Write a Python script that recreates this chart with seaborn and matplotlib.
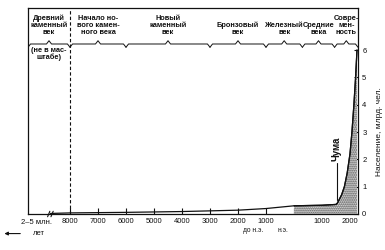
import matplotlib
matplotlib.use("Agg")
import matplotlib.pyplot as plt
import seaborn as sns
import pandas as pd

# ---- data ----
years = [-8700, -8000, -6000, -4000, -2000, -1000, 0, 1000, 1500, 1550,
         1700, 1800, 1900, 2000, 2070, 2140, 2200, 2250]
population = [0.02, 0.04, 0.06, 0.09, 0.14, 0.2, 0.3, 0.32, 0.35, 0.4,
              0.7, 1.0, 1.5, 2.2, 3.0, 4.0, 5.0, 6.0]

era_labels = ["Древний\nкаменный\nвек", "Начало но-\nвого камен-\nного века",
              "Новый\nкаменный\nвек", "Бронзовый\nвек", "Железный\nвек",
              "Средние\nвека", "Совре-\nмен-\nность"]
era_bounds = [-9500, -8000, -6000, -3000, -1000, 300, 1450, 2286]

xtick_pos = [-8000, -7000, -6000, -5000, -4000, -3000, -2000, -1000, 0, 1000, 2000]
xtick_labels = ["8000", "7000", "6000", "5000", "4000", "3000", "2000", "1000", "", "1000", "2000"]
ytick_pos = [0, 1, 2, 3, 4, 5, 6]
plague_year = 1550

INK = "#111111"

sns.set_theme(style="white")
plt.rcParams["font.family"] = ["Liberation Sans", "DejaVu Sans"]

fig = plt.figure(figsize=(3.85, 2.5), dpi=100)
ax = fig.add_axes([28 / 385, 36 / 250, 330 / 385, 206 / 250])

df = pd.DataFrame({"year": years, "pop": population})
sns.lineplot(data=df, x="year", y="pop", color=INK, lw=0.9, ax=ax)

ad = df[df["year"] >= 0]
ax.fill_between(ad["year"], 0, ad["pop"], facecolor="white", edgecolor="#333333",
                hatch="........", linewidth=0)
ax.plot(ad["year"], ad["pop"], color=INK, lw=0.9)

ax.set_xlim(-9500, 2286)
ax.set_ylim(0, 7.537)

for s in ax.spines.values():
    s.set_color(INK)
    s.set_linewidth(0.9)

ax.set_xticks(xtick_pos)
ax.set_xticklabels(xtick_labels)
ax.tick_params(axis="x", direction="in", length=4, width=0.8, color=INK,
               labelsize=5.5, pad=3, labelcolor=INK, bottom=True)
ax.yaxis.tick_right()
ax.set_yticks(ytick_pos)
ax.set_yticklabels([str(v) for v in ytick_pos])
ax.tick_params(axis="y", direction="in", length=3, width=0.8, color=INK,
               labelsize=5.5, pad=3, labelcolor=INK, right=True, left=False)
ax.set_xlabel("")
ax.set_ylabel("Население, млрд. чел.", fontsize=6, color=INK)
ax.yaxis.set_label_position("right")
ax.yaxis.set_label_coords(1.055, 0.40)

# dashed boundary at 8000 BC
ax.axvline(-8000, ls=(0, (3, 2)), color=INK, lw=0.8)

# era header labels and braces
yb = 6.22
h = 0.12
d = 90
for lab, x0, x1 in zip(era_labels, era_bounds[:-1], era_bounds[1:]):
    mid = (x0 + x1) / 2
    ax.text(mid, 6.53, lab, ha="center", va="bottom", fontsize=5.3,
            fontweight="bold", color=INK, linespacing=1.0, multialignment="center")
    bx = [x0, x0 + d, mid - d, mid, mid + d, x1 - d, x1]
    by = [yb - h, yb, yb, yb + h, yb, yb, yb - h]
    ax.plot(bx, by, color=INK, lw=0.7)

ax.text((era_bounds[0] + era_bounds[1]) / 2, 5.85, "(не в мас-\nштабе)", ha="center",
        va="center", fontsize=5.3, fontweight="bold", color=INK, linespacing=1.0)

# plague marker
ax.plot([plague_year, plague_year], [0.5, 1.85], color=INK, lw=0.8)
ax.text(plague_year - 20, 1.95, "Чума", rotation=90, ha="center", va="bottom",
        fontsize=7, fontweight="bold", color=INK)

# axis break marks
for off in (-60, 60):
    ax.plot([-8700 + off - 40, -8700 + off + 40], [-0.1, 0.1], color=INK, lw=0.8,
            clip_on=False)

# bottom texts
xt = ax.get_xaxis_transform()
ax.text(-9200, -0.039, "2–5 млн.", ha="center", va="center", fontsize=5.5,
        color=INK, transform=xt)
ax.text(-9100, -0.095, "лет", ha="center", va="center", fontsize=5.5,
        color=INK, transform=xt)
ax.annotate("", xy=(-0.08, -0.095), xytext=(-0.015, -0.095), xycoords="axes fraction",
            arrowprops=dict(arrowstyle="-|>", lw=0.8, color=INK, mutation_scale=5))
ax.text(-1460, -0.078, "до н.э.", ha="center", va="center", fontsize=4.8,
        color=INK, transform=xt)
ax.text(-400, -0.078, "н.э.", ha="center", va="center", fontsize=4.8,
        color=INK, transform=xt)

fig.savefig("out.png", dpi=100)
